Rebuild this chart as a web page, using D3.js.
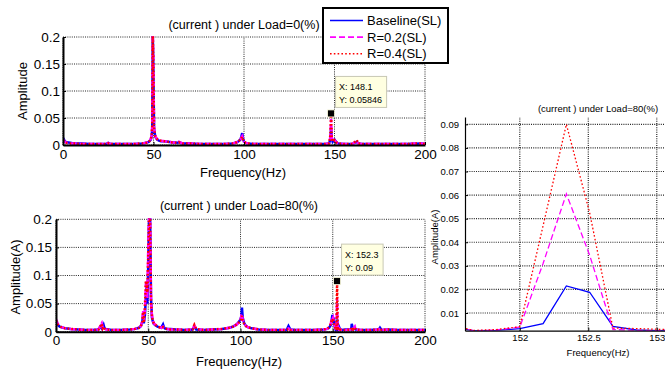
<!DOCTYPE html>
<html>
<head>
<meta charset="utf-8">
<script src="https://cdn.jsdelivr.net/npm/d3@7/dist/d3.min.js"></script>
<style>
  body { margin: 0; background: #fff; }
  text { font-family: Arial, 'Liberation Sans', sans-serif; fill: #000; }
</style>
</head>
<body>
<script>
const seriesNames = ['Baseline(SL)', 'R=0.2(SL)', 'R=0.4(SL)']

// spectrum under Load=0(%)
const freqLoad0 = [0, 1, 2, 4, 6, 10, 15, 20, 24, 25, 26, 30, 35, 40, 44, 46, 47.5, 48.5, 49.0, 49.3, 49.6, 49.9, 50.3, 51, 52, 53, 54, 56, 58, 60, 63, 64, 66, 70, 75, 80, 85, 90, 94, 96, 97, 98, 98.5, 99, 99.5, 100, 101, 102, 105, 110, 120, 130, 140, 145, 147, 147.7, 148.1, 148.5, 149, 149.5, 150, 151, 152, 155, 160, 162.3, 163, 165, 170, 180, 190, 198, 200]
const baseLoad0 = [0.013, 0.007, 0.005, 0.004, 0.003, 0.003, 0.002, 0.002, 0.002, 0.004, 0.002, 0.002, 0.002, 0.002, 0.003, 0.004, 0.006, 0.010, 0.016, 0.030, 0.205, 0.150, 0.030, 0.015, 0.010, 0.008, 0.007, 0.007, 0.006, 0.005, 0.004, 0.005, 0.003, 0.003, 0.002, 0.002, 0.002, 0.002, 0.003, 0.005, 0.007, 0.010, 0.015, 0.022, 0.012, 0.006, 0.004, 0.003, 0.002, 0.002, 0.002, 0.002, 0.002, 0.002, 0.003, 0.010, 0.030, 0.012, 0.006, 0.008, 0.010, 0.005, 0.003, 0.002, 0.002, 0.006, 0.003, 0.002, 0.002, 0.002, 0.002, 0.003, 0.002]
const r02Load0 = [0.010, 0.006, 0.004, 0.003, 0.003, 0.002, 0.002, 0.002, 0.002, 0.004, 0.002, 0.002, 0.002, 0.002, 0.003, 0.004, 0.006, 0.011, 0.018, 0.035, 0.205, 0.160, 0.032, 0.016, 0.011, 0.009, 0.008, 0.007, 0.006, 0.005, 0.004, 0.006, 0.003, 0.003, 0.002, 0.002, 0.002, 0.002, 0.003, 0.005, 0.007, 0.010, 0.013, 0.016, 0.011, 0.006, 0.004, 0.003, 0.002, 0.002, 0.002, 0.002, 0.002, 0.002, 0.003, 0.015, 0.048, 0.014, 0.006, 0.007, 0.009, 0.005, 0.003, 0.002, 0.002, 0.008, 0.003, 0.002, 0.002, 0.002, 0.002, 0.003, 0.002]
const r04Load0 = [0.009, 0.006, 0.004, 0.003, 0.003, 0.002, 0.002, 0.002, 0.002, 0.003, 0.002, 0.002, 0.002, 0.002, 0.003, 0.004, 0.006, 0.011, 0.018, 0.035, 0.205, 0.160, 0.032, 0.016, 0.011, 0.009, 0.008, 0.007, 0.006, 0.005, 0.004, 0.005, 0.003, 0.003, 0.002, 0.002, 0.002, 0.002, 0.003, 0.005, 0.007, 0.010, 0.012, 0.015, 0.010, 0.006, 0.004, 0.003, 0.002, 0.002, 0.002, 0.002, 0.002, 0.002, 0.003, 0.018, 0.05846, 0.015, 0.006, 0.007, 0.009, 0.005, 0.003, 0.002, 0.002, 0.009, 0.003, 0.002, 0.002, 0.002, 0.002, 0.003, 0.002]

// spectrum under Load=80(%)
const freqLoad80 = [0, 1, 2, 3, 5, 8, 12, 16, 20, 23, 24.3, 24.8, 25.3, 25.8, 26.3, 27, 30, 35, 40, 43, 45, 46, 46.8, 47.2, 47.6, 48.2, 48.7, 49.1, 49.5, 50, 50.5, 51, 51.5, 52, 52.5, 53, 54, 55, 56, 57, 58, 58.5, 59, 60, 62, 65, 70, 74, 75, 76, 80, 85, 90, 94, 96, 98, 99, 100, 100.5, 100.8, 101.2, 102, 103, 104, 106, 110, 115, 120, 125, 126, 127, 130, 135, 140, 145, 147, 148, 149, 149.4, 149.8, 150.2, 150.6, 151, 151.5, 151.66, 151.83, 152.0, 152.17, 152.34, 152.51, 152.68, 152.85, 153.02, 153.19, 153.5, 154, 155, 157, 160, 160.3, 161, 162, 162.5, 165, 170, 175, 175.6, 176.5, 180, 185, 190, 195, 200]
const baseLoad80 = [0.018, 0.012, 0.009, 0.008, 0.006, 0.005, 0.004, 0.003, 0.003, 0.004, 0.010, 0.006, 0.008, 0.012, 0.006, 0.005, 0.003, 0.003, 0.004, 0.005, 0.007, 0.010, 0.018, 0.030, 0.015, 0.030, 0.060, 0.080, 0.050, 0.120, 0.210, 0.210, 0.060, 0.025, 0.018, 0.014, 0.011, 0.009, 0.008, 0.007, 0.013, 0.008, 0.006, 0.005, 0.005, 0.004, 0.003, 0.004, 0.009, 0.004, 0.003, 0.004, 0.005, 0.007, 0.009, 0.013, 0.017, 0.022, 0.028, 0.043, 0.025, 0.015, 0.010, 0.008, 0.006, 0.004, 0.003, 0.003, 0.003, 0.010, 0.004, 0.003, 0.003, 0.003, 0.004, 0.005, 0.007, 0.012, 0.020, 0.030, 0.018, 0.025, 0.010, 0.004, 0.0025, 0.0026, 0.0034, 0.0055, 0.0215, 0.0188, 0.0043, 0.0028, 0.0025, 0.0030, 0.008, 0.004, 0.003, 0.004, 0.004, 0.014, 0.004, 0.006, 0.004, 0.003, 0.003, 0.004, 0.007, 0.003, 0.004, 0.003, 0.003, 0.003, 0.003]
const r02Load80 = [0.022, 0.014, 0.010, 0.008, 0.006, 0.005, 0.004, 0.003, 0.003, 0.004, 0.012, 0.015, 0.007, 0.010, 0.006, 0.004, 0.003, 0.003, 0.004, 0.005, 0.008, 0.010, 0.020, 0.038, 0.018, 0.040, 0.085, 0.090, 0.060, 0.150, 0.210, 0.210, 0.050, 0.030, 0.020, 0.015, 0.012, 0.010, 0.008, 0.007, 0.009, 0.007, 0.006, 0.005, 0.004, 0.004, 0.003, 0.004, 0.011, 0.005, 0.003, 0.004, 0.005, 0.007, 0.009, 0.013, 0.016, 0.020, 0.030, 0.032, 0.022, 0.014, 0.010, 0.008, 0.006, 0.004, 0.003, 0.003, 0.003, 0.006, 0.003, 0.003, 0.003, 0.003, 0.004, 0.005, 0.008, 0.015, 0.025, 0.022, 0.025, 0.018, 0.012, 0.005, 0.0025, 0.0028, 0.0040, 0.0310, 0.0605, 0.0345, 0.0030, 0.0026, 0.0025, 0.0030, 0.006, 0.004, 0.003, 0.003, 0.004, 0.008, 0.004, 0.009, 0.004, 0.003, 0.003, 0.004, 0.006, 0.003, 0.004, 0.003, 0.003, 0.003, 0.003]
const r04Load80 = [0.020, 0.013, 0.010, 0.008, 0.006, 0.005, 0.004, 0.003, 0.003, 0.004, 0.011, 0.014, 0.006, 0.009, 0.006, 0.004, 0.003, 0.003, 0.004, 0.005, 0.007, 0.010, 0.016, 0.035, 0.016, 0.045, 0.090, 0.085, 0.070, 0.140, 0.210, 0.210, 0.055, 0.028, 0.020, 0.015, 0.012, 0.010, 0.008, 0.007, 0.008, 0.007, 0.006, 0.005, 0.004, 0.004, 0.003, 0.004, 0.012, 0.005, 0.003, 0.004, 0.005, 0.007, 0.009, 0.013, 0.016, 0.019, 0.025, 0.028, 0.020, 0.014, 0.010, 0.008, 0.006, 0.004, 0.003, 0.003, 0.003, 0.005, 0.003, 0.003, 0.003, 0.003, 0.004, 0.005, 0.008, 0.014, 0.022, 0.020, 0.024, 0.016, 0.011, 0.005, 0.0026, 0.0030, 0.0042, 0.0470, 0.0900, 0.0525, 0.0036, 0.0034, 0.0031, 0.0030, 0.007, 0.004, 0.003, 0.003, 0.004, 0.007, 0.004, 0.008, 0.004, 0.003, 0.003, 0.004, 0.005, 0.003, 0.004, 0.003, 0.003, 0.003, 0.003]

const xTicksFull = [0, 50, 100, 150, 200]
const yTicksFull = [0, 0.05, 0.1, 0.15, 0.2]
const xTicksZoom = [152, 152.5, 153]
const yTicksZoom = [0.01, 0.02, 0.03, 0.04, 0.05, 0.06, 0.07, 0.08, 0.09]

// data tips: [frequency, amplitude, label lines]
const tipLoad0 = [148.1, 0.05846, 'X: 148.1', 'Y: 0.05846']
const tipLoad80 = [152.34, 0.09, 'X: 152.3', 'Y: 0.09']

const colors = ['#0000ff', '#ff00ff', '#ff0000']
const dashes = [null, '6,3', '1.6,2.2']

const svg = d3.select('body').append('svg')
  .attr('width', 665)
  .attr('height', 369)

let clipId = 0

function panel (p) {
  const x = d3.scaleLinear().domain(p.xDomain).range([p.left, p.right])
  const y = d3.scaleLinear().domain(p.yDomain).range([p.bottom, p.top])
  const g = svg.append('g')

  // dotted grid
  g.selectAll('.gx')
    .data(p.xTicks)
    .enter().append('line')
    .attr('x1', d => x(d)).attr('x2', d => x(d))
    .attr('y1', p.bottom).attr('y2', p.top)
    .style('stroke', '#111').style('stroke-width', p.gridW)
    .style('stroke-dasharray', '1,1.2').style('opacity', 0.9)
  g.selectAll('.gy')
    .data(p.yTicks)
    .enter().append('line')
    .attr('x1', p.left).attr('x2', p.right)
    .attr('y1', d => y(d)).attr('y2', d => y(d))
    .style('stroke', '#111').style('stroke-width', p.gridW)
    .style('stroke-dasharray', '1,1.2').style('opacity', 0.9)

  clipId++
  svg.append('clipPath').attr('id', 'clip' + clipId)
    .append('rect')
    .attr('x', p.left).attr('y', p.top - 1)
    .attr('width', p.right - p.left).attr('height', p.bottom - p.top + 1)

  const line = d3.line()
    .x(d => x(d[0]))
    .y(d => y(d[1]))

  p.series.forEach((vals, i) => {
    const pts = p.freq.map((f, j) => [f, vals[j]])
      .filter(d => d[0] >= p.keep[0] && d[0] <= p.keep[1])
    g.append('path')
      .datum(pts)
      .attr('clip-path', `url(#clip${clipId})`)
      .attr('d', line)
      .style('fill', 'none')
      .style('stroke', colors[i])
      .style('stroke-width', p.lineW)
      .style('stroke-dasharray', dashes[i])
  })

  const xAxis = g.append('g')
    .attr('transform', `translate(0, ${p.bottom})`)
    .call(d3.axisBottom(x).tickValues(p.xTicks).tickFormat(d => d)
      .tickSizeInner(-3).tickSizeOuter(0).tickPadding(p.xPad))
  const yAxis = g.append('g')
    .attr('transform', `translate(${p.left}, 0)`)
    .call(d3.axisLeft(y).tickValues(p.yTicks).tickFormat(d => d)
      .tickSizeInner(-3).tickSizeOuter(0).tickPadding(p.yPad))
  ;[xAxis, yAxis].forEach(a => {
    a.select('.domain').style('stroke-width', p.axisW)
    a.selectAll('text').style('font-size', p.tickFont + 'px')
      .style('font-family', 'Arial, Liberation Sans, sans-serif')
  })

  g.append('text')
    .attr('x', p.titleX).attr('y', p.titleY)
    .attr('dominant-baseline', 'central')
    .style('text-anchor', 'middle')
    .style('font-size', p.titleFont + 'px')
    .text(p.title)
  g.append('text')
    .attr('x', p.xLabelX).attr('y', p.xLabelY)
    .attr('dominant-baseline', 'central')
    .style('text-anchor', 'middle')
    .style('font-size', p.labelFont + 'px')
    .text('Frequency(Hz)')
  g.append('text')
    .attr('transform', `translate(${p.yLabelX}, ${p.yLabelY}) rotate(-90)`)
    .attr('dominant-baseline', 'central')
    .style('text-anchor', 'middle')
    .style('font-size', p.labelFont + 'px')
    .text(p.yLabel)

  if (p.tip) {
    const mx = x(p.tip[0])
    const my = y(p.tip[1])
    const tg = svg.append('g')
    const box = tg.append('rect')
      .style('fill', '#ffffe1').style('stroke', '#c8c8b4').style('stroke-width', 1)
    const t1 = tg.append('text').attr('x', mx + 8).attr('y', my - 26)
      .attr('dominant-baseline', 'central').style('font-size', '9px').text(p.tip[2])
    const t2 = tg.append('text').attr('x', mx + 8).attr('y', my - 13.5)
      .attr('dominant-baseline', 'central').style('font-size', '9px').text(p.tip[3])
    const w = Math.max(t1.node().getComputedTextLength(), t2.node().getComputedTextLength())
    box.attr('x', mx + 4.5).attr('y', my - 37).attr('width', w + 8).attr('height', 31)
    tg.append('rect')
      .attr('x', mx - 3.5).attr('y', my - 3.5).attr('width', 7).attr('height', 7)
      .style('fill', '#000').style('stroke', '#ffffe1').style('stroke-width', 0.8)
  }
}

panel({
  xDomain: [0, 200], yDomain: [0, 0.2], left: 63, right: 425, top: 37, bottom: 145,
  xTicks: xTicksFull, yTicks: yTicksFull, freq: freqLoad0, keep: [0, 200],
  series: [baseLoad0, r02Load0, r04Load0], lineW: 2.5, axisW: 2, gridW: 1,
  tickFont: 13.5, xPad: 4, yPad: 3, title: '(current ) under Load=0(%)', titleFont: 12.5,
  titleX: 244, titleY: 25, xLabelX: 243, xLabelY: 172, labelFont: 13,
  yLabel: 'Amplitude', yLabelX: 22, yLabelY: 91, tip: tipLoad0
})

panel({
  xDomain: [0, 200], yDomain: [0, 0.2], left: 56, right: 425, top: 219.3, bottom: 331.7,
  xTicks: xTicksFull, yTicks: yTicksFull, freq: freqLoad80, keep: [0, 200],
  series: [baseLoad80, r02Load80, r04Load80], lineW: 2.5, axisW: 2, gridW: 1,
  tickFont: 13.5, xPad: 4, yPad: 4, title: '(current ) under Load=80(%)', titleFont: 12.5,
  titleX: 239, titleY: 206, xLabelX: 239, xLabelY: 361, labelFont: 13,
  yLabel: 'Amplitude(A)', yLabelX: 15, yLabelY: 277, tip: tipLoad80
})

panel({
  xDomain: [151.6, 153.06], yDomain: [0.0025, 0.0931], left: 465, right: 665, top: 117, bottom: 330.7,
  xTicks: xTicksZoom, yTicks: yTicksZoom, freq: freqLoad80, keep: [151.4, 153.3],
  series: [baseLoad80, r02Load80, r04Load80], lineW: 1.3, axisW: 1.2, gridW: 1.2,
  tickFont: 9.5, xPad: 4, yPad: 6, title: '(current ) under Load=80(%)', titleFont: 9.5,
  titleX: 598, titleY: 108, xLabelX: 598, xLabelY: 352, labelFont: 9.5,
  yLabel: 'Amplitude(A)', yLabelX: 434, yLabelY: 237, tip: null
})

// legend
const lg = svg.append('g')
lg.append('rect')
  .attr('x', 323).attr('y', 8).attr('width', 125).attr('height', 55)
  .style('fill', '#fff').style('stroke', '#000').style('stroke-width', 2)
seriesNames.forEach((name, i) => {
  const yy = 20.5 + i * 16.6
  lg.append('line')
    .attr('x1', 330).attr('x2', 363).attr('y1', yy).attr('y2', yy)
    .style('stroke', colors[i]).style('stroke-width', 1.6)
    .style('stroke-dasharray', dashes[i])
  lg.append('text')
    .attr('x', 367).attr('y', yy)
    .attr('dominant-baseline', 'central')
    .style('font-size', '13px')
    .text(name)
})
</script>
</body>
</html>
